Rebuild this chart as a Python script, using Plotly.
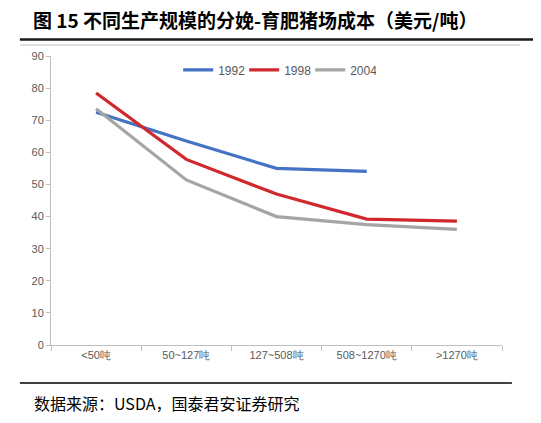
import plotly.graph_objects as go

categories = ["<50吨", "50~127吨", "127~508吨", "508~1270吨", ">1270吨"]
cost_1992 = [72.5, 63.5, 55.0, 54.1, None]
cost_1998 = [78.5, 57.8, 47.0, 39.2, 38.6]
cost_2004 = [73.6, 51.4, 40.0, 37.5, 36.0]

series = [
    ("1992", cost_1992, "#4472C4"),
    ("1998", cost_1998, "#D0282C"),
    ("2004", cost_2004, "#A5A5A5"),
]

fig = go.Figure()
for name, vals, color in series:
    fig.add_trace(go.Scatter(x=categories, y=vals, name=name, mode="lines",
                             line=dict(color=color, width=3.2),
                             connectgaps=False))

tick_font = dict(family="Liberation Sans Narrow, Arial Narrow, sans-serif", size=11, color="#595959")

# page body has an 8px margin, so the figure is sized to fit the window
fig.update_layout(
    width=533, height=415,
    margin=dict(l=43, r=39, t=48, b=78),
    paper_bgcolor="white", plot_bgcolor="white",
    showlegend=True,
    legend=dict(orientation="h", x=0.282, y=0.952, xanchor="left", yanchor="middle",
                font=dict(family="Liberation Sans Narrow, Arial Narrow, sans-serif", size=12, color="#595959"),
                itemwidth=30, bgcolor="rgba(0,0,0,0)",
                entrywidth=21, entrywidthmode="pixels"),
    title=dict(text="<b>图 15 不同生产规模的分娩-育肥猪场成本（美元/吨）</b>",
               x=0.047, xanchor="left", y=0.967, yanchor="middle",
               font=dict(family="Noto Sans CJK SC", size=19, color="black")),
)

fig.update_xaxes(showline=True, linecolor="#BFBFBF", linewidth=1,
                 ticks="outside", tickson="boundaries", ticklen=5, tickcolor="#BFBFBF",
                 showgrid=False, tickfont=tick_font, range=[-0.5, 4.5])
fig.update_yaxes(showline=True, linecolor="#BFBFBF", linewidth=1,
                 ticks="outside", ticklen=4, tickcolor="#BFBFBF",
                 range=[0, 90], dtick=10, showgrid=False, zeroline=False,
                 tickfont=tick_font)

# header and footer rules
fig.add_shape(type="line", xref="paper", yref="paper", x0=-0.069, x1=1.069, y0=1.057, y1=1.057,
              line=dict(color="#1a1a1a", width=2.5))
fig.add_shape(type="line", xref="paper", yref="paper", x0=-0.069, x1=1.040, y0=1.038, y1=1.038,
              line=dict(color="#BFBFBF", width=1))
fig.add_shape(type="line", xref="paper", yref="paper", x0=-0.069, x1=1.022, y0=-0.1315, y1=-0.1315,
              line=dict(color="black", width=1.5))

fig.add_annotation(text="数据来源：USDA，国泰君安证券研究", xref="paper", yref="paper",
                   x=-0.042, y=-0.2, xanchor="left", yanchor="middle", showarrow=False,
                   font=dict(family="Noto Sans CJK SC", size=16, color="black"))

fig.write_html("out.html")
